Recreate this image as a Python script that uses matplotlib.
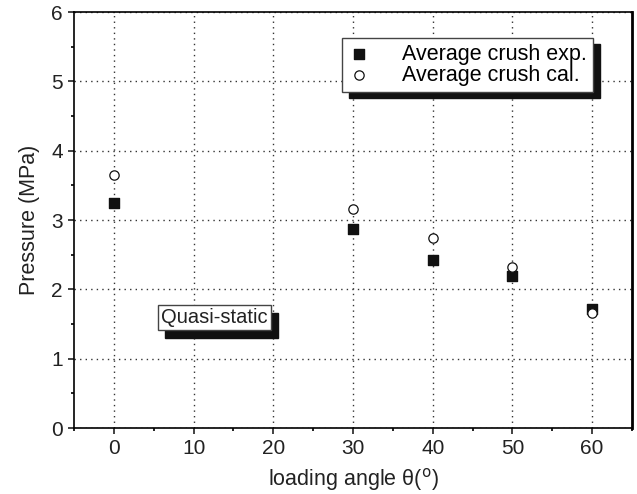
import numpy as np
import matplotlib.pyplot as plt
from matplotlib.patches import Rectangle

# loading angle (deg) and average crush pressure (MPa)
angles = [0, 30, 40, 50, 60]
crush_exp = [3.24, 2.87, 2.42, 2.19, 1.71]
crush_cal = [3.65, 3.16, 2.74, 2.32, 1.66]

plt.rcParams['font.family'] = ['Liberation Sans', 'DejaVu Sans']
W, H = 637, 494

fig = plt.figure(figsize=(W / 100, H / 100), dpi=100)
ax = fig.add_axes([74 / W, 1 - 428 / H, 558 / W, 416 / H])

ax.scatter(angles, crush_exp, marker='s', s=45, color='#111111', zorder=5,
           label='Average crush exp.')
ax.scatter(angles, crush_cal, marker='o', s=45, facecolor='white',
           edgecolor='#111111', linewidth=0.9, zorder=6,
           label='Average crush cal.')

ax.set_xlim(-5, 65)
ax.set_ylim(0, 6)
ax.set_xticks(range(0, 61, 10))
ax.set_xticks(range(-5, 66, 5), minor=True)
ax.set_yticks(range(0, 7))
ax.set_yticks(np.arange(0, 6.01, 0.5), minor=True)
ax.tick_params(which='major', direction='out', length=4, width=1.2,
               labelsize=15, colors='#222222', pad=4)
ax.tick_params(which='minor', direction='out', length=2.5, width=1.2)
ax.grid(True, which='major', linestyle=(0, (1, 3)), color='#333333',
        linewidth=1)
for s in ax.spines.values():
    s.set_linewidth(1.2)
ax.spines['right'].set_linewidth(2)

ax.set_xlabel('loading angle θ($^{\\mathrm{o}}$)', fontsize=15.5,
              color='#222222', labelpad=6)
ax.set_ylabel('Pressure (MPa)', fontsize=15.5, color='#222222', labelpad=8)

# legend box with a drop shadow
leg = ax.legend(loc='upper left', bbox_to_anchor=(268 / 558, 390 / 416),
                borderaxespad=0, fontsize=15.5, frameon=True, fancybox=False,
                framealpha=1, handletextpad=1.5, borderpad=0.28,
                labelspacing=0.0, handlelength=1.0)
leg.get_frame().set_edgecolor('#444444')
leg.get_frame().set_linewidth(1)
leg.set_zorder(10)

# annotation label with a drop shadow
note = ax.text(5.9, 1.594, 'Quasi-static', fontsize=14.5, color='#222222',
               ha='left', va='center', zorder=11,
               bbox=dict(boxstyle='square,pad=0.15', facecolor='white',
                         edgecolor='#444444', linewidth=1))

fig.canvas.draw()
inv = ax.transAxes.inverted()


def add_shadow(bbox, dx, dy, z):
    (x0, y0), (x1, y1) = inv.transform([[bbox.x0 + dx, bbox.y0 - dy],
                                        [bbox.x1 + dx, bbox.y1 - dy]])
    ax.add_patch(Rectangle((x0, y0), x1 - x0, y1 - y0, transform=ax.transAxes,
                           color='#111111', zorder=z, clip_on=False))


add_shadow(leg.get_frame().get_window_extent(), 7, 6, 9)
add_shadow(note.get_bbox_patch().get_window_extent(), 7, 8, 10)

fig.savefig('out.png', dpi=100)
